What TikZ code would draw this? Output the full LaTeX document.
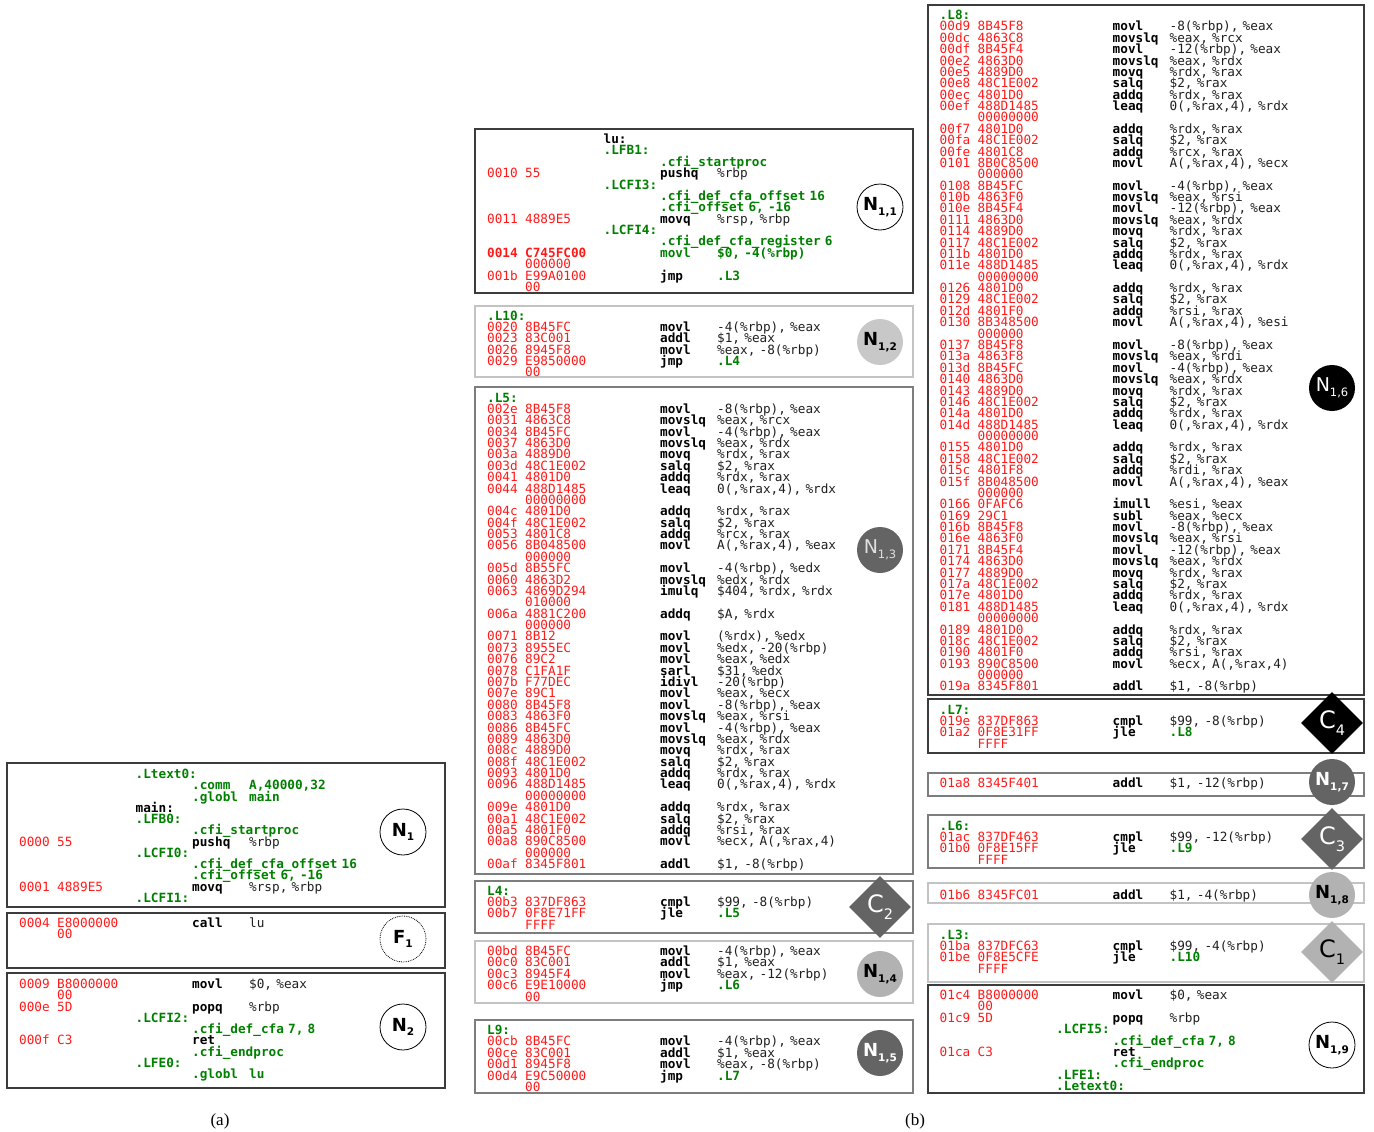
\documentclass[tikz,border=0pt]{standalone}
\usepackage{fontspec}
\usepackage{xcolor}
\usepackage{tikz}
\usetikzlibrary{shapes.geometric}
\newfontfamily\asmfont{DejaVu Sans Mono}
\newfontfamily\mkfont{DejaVu Sans}
\newfontfamily\capfont{Liberation Serif}
\definecolor{addrred}{RGB}{255, 26, 26}
\definecolor{lblgreen}{RGB}{0, 128, 0}
\definecolor{opgray}{RGB}{30, 30, 30}
\definecolor{mklight}{RGB}{200, 200, 200}
\definecolor{mkmid}{RGB}{178, 178, 178}
\definecolor{mkdark}{RGB}{100, 100, 100}
\definecolor{bddark}{RGB}{60, 60, 60}
\definecolor{bdmid}{RGB}{125, 125, 125}
\definecolor{bdlight}{RGB}{195, 195, 195}

\newcommand{\codefont}{\asmfont\fontsize{12.7}{11.38}\selectfont\lineskiplimit=-30pt\lineskip=0pt}
\newcommand{\codefontA}{\asmfont\fontsize{12.7}{11.25}\selectfont\lineskiplimit=-30pt\lineskip=0pt}
\newcommand{\ins}[4]{\makebox[38pt][l]{\color{addrred}#1}\makebox[78.5pt][l]{\color{addrred}#2}\hspace*{56.5pt}\makebox[57pt][l]{\bfseries#3}{\color{opgray}#4}}
\newcommand{\cont}[1]{\hspace*{38pt}{\color{addrred}#1}}
\newcommand{\blab}[1]{{\color{lblgreen}\bfseries#1}}
\newcommand{\lab}[1]{\hspace*{116.5pt}{\color{lblgreen}\bfseries#1}}
\newcommand{\fnl}[1]{\hspace*{116.5pt}{\bfseries#1}}
\newcommand{\dirx}[1]{\hspace*{173pt}{\color{lblgreen}\bfseries#1}}
\newcommand{\dirs}[2]{\hspace*{173pt}\makebox[57pt][l]{\color{lblgreen}\bfseries#1}{\color{lblgreen}\bfseries#2}}
\newcommand{\tgt}[1]{{\color{lblgreen}\bfseries#1}}
\newcommand{\nb}[2]{{\fontsize{18}{18}\selectfont\bfseries #1}\raisebox{-4.5pt}{\fontsize{10.5}{10.5}\selectfont\bfseries #2}}
\newcommand{\nrg}[2]{{\fontsize{19}{19}\selectfont #1}\raisebox{-5pt}{\fontsize{11.5}{11.5}\selectfont #2}}
\newcommand{\cd}[2]{{\fontsize{24}{24}\selectfont #1}\raisebox{-7pt}{\fontsize{14.5}{14.5}\selectfont #2}}

\begin{document}
\begin{tikzpicture}[x=1pt, y=-1pt,
        code/.style={anchor=base west, inner sep=0pt, text width=430pt, align=left, font=\codefont},
        codea/.style={code, font=\codefontA},
        blk/.style={line width=1.3pt},
        mk/.style={circle, minimum size=46pt, inner sep=0pt, font=\mkfont},
        mkw/.style={mk, draw=black, line width=0.8pt, fill=white},
        mkc/.style={diamond, aspect=1, minimum size=62pt, inner sep=0pt, font=\mkfont},
        captxt/.style={font=\capfont\fontsize{17}{17}\selectfont}
    ]
    \useasboundingbox (0,0) rectangle (1374,1132);

    \draw[blk, draw=bddark] (7,763) rectangle (445,907);
    \draw[blk, draw=bddark] (7,913) rectangle (445,968);
    \draw[blk, draw=bddark] (7,973) rectangle (445,1088);

    \draw[blk, draw=bddark] (475,129) rectangle (913,293);
    \draw[blk, draw=bdlight] (475,306) rectangle (913,377);
    \draw[blk, draw=bdmid] (475,387) rectangle (913,874);
    \draw[blk, draw=bdmid] (475,881) rectangle (913,933);
    \draw[blk, draw=bdlight] (475,941) rectangle (913,1003);
    \draw[blk, draw=bdmid] (475,1020) rectangle (913,1093);

    \draw[blk, draw=bddark] (928,5) rectangle (1364,695);
    \draw[blk, draw=bddark] (928,699) rectangle (1364,753);
    \draw[blk, draw=bdmid] (928,773) rectangle (1364,796);
    \draw[blk, draw=bdmid] (928,815) rectangle (1364,868);
    \draw[blk, draw=bdlight] (928,883) rectangle (1364,903);
    \draw[blk, draw=bdlight] (928,924) rectangle (1364,982);
    \draw[blk, draw=bddark] (928,985) rectangle (1364,1093);

    \node[codea] (lsmain) at (19,778.5) {%
        \lab{.Ltext0:}\\
        \dirs{.comm}{A,40000,32}\\
        \dirs{.globl}{main}\\
        \fnl{main:}\\
        \lab{.LFB0:}\\
        \dirx{.cfi\_startproc}\\
        \ins{0000}{55}{pushq}{\%rbp}\\
        \lab{.LCFI0:}\\
        \dirx{.cfi\_def\_cfa\_offset 16}\\
        \dirx{.cfi\_offset 6, -16}\\
        \ins{0001}{4889E5}{movq}{\%rsp, \%rbp}\\
        \lab{.LCFI1:}};
    \node[codea] (lscall) at (19,927.5) {%
        \ins{0004}{E8000000}{call}{lu}\\
        \cont{00}};
    \node[codea] (lsret) at (19,988.5) {%
        \ins{0009}{B8000000}{movl}{\$0, \%eax}\\
        \cont{00}\\
        \ins{000e}{5D}{popq}{\%rbp}\\
        \lab{.LCFI2:}\\
        \dirx{.cfi\_def\_cfa 7, 8}\\
        \ins{000f}{C3}{ret}{}\\
        \dirx{.cfi\_endproc}\\
        \lab{.LFE0:}\\
        \dirs{.globl}{lu}};

    \node[code] (lslu) at (487,143.5) {%
        \fnl{lu:}\\
        \lab{.LFB1:}\\
        \dirx{.cfi\_startproc}\\
        \ins{0010}{55}{pushq}{\%rbp}\\
        \lab{.LCFI3:}\\
        \dirx{.cfi\_def\_cfa\_offset 16}\\
        \dirx{.cfi\_offset 6, -16}\\
        \ins{0011}{4889E5}{movq}{\%rsp, \%rbp}\\
        \lab{.LCFI4:}\\
        \dirx{.cfi\_def\_cfa\_register 6}\\
        \ins{\bfseries 0014}{\bfseries C745FC00}{\color{lblgreen}movl}{\color{lblgreen}\bfseries \$0, -4(\%rbp)}\\
        \cont{000000}\\
        \ins{001b}{E99A0100}{jmp}{\tgt{.L3}}\\
        \cont{00}};
    \node[code] (lsten) at (487,320) {%
        \blab{.L10:}\\
        \ins{0020}{8B45FC}{movl}{-4(\%rbp), \%eax}\\
        \ins{0023}{83C001}{addl}{\$1, \%eax}\\
        \ins{0026}{8945F8}{movl}{\%eax, -8(\%rbp)}\\
        \ins{0029}{E9850000}{jmp}{\tgt{.L4}}\\
        \cont{00}};
    \node[code] (lsfive) at (487,402) {%
        \blab{.L5:}\\
        \ins{002e}{8B45F8}{movl}{-8(\%rbp), \%eax}\\
        \ins{0031}{4863C8}{movslq}{\%eax, \%rcx}\\
        \ins{0034}{8B45FC}{movl}{-4(\%rbp), \%eax}\\
        \ins{0037}{4863D0}{movslq}{\%eax, \%rdx}\\
        \ins{003a}{4889D0}{movq}{\%rdx, \%rax}\\
        \ins{003d}{48C1E002}{salq}{\$2, \%rax}\\
        \ins{0041}{4801D0}{addq}{\%rdx, \%rax}\\
        \ins{0044}{488D1485}{leaq}{0(,\%rax,4), \%rdx}\\
        \cont{00000000}\\
        \ins{004c}{4801D0}{addq}{\%rdx, \%rax}\\
        \ins{004f}{48C1E002}{salq}{\$2, \%rax}\\
        \ins{0053}{4801C8}{addq}{\%rcx, \%rax}\\
        \ins{0056}{8B048500}{movl}{A(,\%rax,4), \%eax}\\
        \cont{000000}\\
        \ins{005d}{8B55FC}{movl}{-4(\%rbp), \%edx}\\
        \ins{0060}{4863D2}{movslq}{\%edx, \%rdx}\\
        \ins{0063}{4869D294}{imulq}{\$404, \%rdx, \%rdx}\\
        \cont{010000}\\
        \ins{006a}{4881C200}{addq}{\$A, \%rdx}\\
        \cont{000000}\\
        \ins{0071}{8B12}{movl}{(\%rdx), \%edx}\\
        \ins{0073}{8955EC}{movl}{\%edx, -20(\%rbp)}\\
        \ins{0076}{89C2}{movl}{\%eax, \%edx}\\
        \ins{0078}{C1FA1F}{sarl}{\$31, \%edx}\\
        \ins{007b}{F77DEC}{idivl}{-20(\%rbp)}\\
        \ins{007e}{89C1}{movl}{\%eax, \%ecx}\\
        \ins{0080}{8B45F8}{movl}{-8(\%rbp), \%eax}\\
        \ins{0083}{4863F0}{movslq}{\%eax, \%rsi}\\
        \ins{0086}{8B45FC}{movl}{-4(\%rbp), \%eax}\\
        \ins{0089}{4863D0}{movslq}{\%eax, \%rdx}\\
        \ins{008c}{4889D0}{movq}{\%rdx, \%rax}\\
        \ins{008f}{48C1E002}{salq}{\$2, \%rax}\\
        \ins{0093}{4801D0}{addq}{\%rdx, \%rax}\\
        \ins{0096}{488D1485}{leaq}{0(,\%rax,4), \%rdx}\\
        \cont{00000000}\\
        \ins{009e}{4801D0}{addq}{\%rdx, \%rax}\\
        \ins{00a1}{48C1E002}{salq}{\$2, \%rax}\\
        \ins{00a5}{4801F0}{addq}{\%rsi, \%rax}\\
        \ins{00a8}{890C8500}{movl}{\%ecx, A(,\%rax,4)}\\
        \cont{000000}\\
        \ins{00af}{8345F801}{addl}{\$1, -8(\%rbp)}};
    \node[code] (lsfour) at (487,895) {%
        \blab{L4:}\\
        \ins{00b3}{837DF863}{cmpl}{\$99, -8(\%rbp)}\\
        \ins{00b7}{0F8E71FF}{jle}{\tgt{.L5}}\\
        \cont{FFFF}};
    \node[code] (lsinc) at (487,955.5) {%
        \ins{00bd}{8B45FC}{movl}{-4(\%rbp), \%eax}\\
        \ins{00c0}{83C001}{addl}{\$1, \%eax}\\
        \ins{00c3}{8945F4}{movl}{\%eax, -12(\%rbp)}\\
        \ins{00c6}{E9E10000}{jmp}{\tgt{.L6}}\\
        \cont{00}};
    \node[code] (lsnine) at (487,1034.5) {%
        \blab{L9:}\\
        \ins{00cb}{8B45FC}{movl}{-4(\%rbp), \%eax}\\
        \ins{00ce}{83C001}{addl}{\$1, \%eax}\\
        \ins{00d1}{8945F8}{movl}{\%eax, -8(\%rbp)}\\
        \ins{00d4}{E9C50000}{jmp}{\tgt{.L7}}\\
        \cont{00}};

    \node[code] (lseight) at (939.5,19.5) {%
        \blab{.L8:}\\
        \ins{00d9}{8B45F8}{movl}{-8(\%rbp), \%eax}\\
        \ins{00dc}{4863C8}{movslq}{\%eax, \%rcx}\\
        \ins{00df}{8B45F4}{movl}{-12(\%rbp), \%eax}\\
        \ins{00e2}{4863D0}{movslq}{\%eax, \%rdx}\\
        \ins{00e5}{4889D0}{movq}{\%rdx, \%rax}\\
        \ins{00e8}{48C1E002}{salq}{\$2, \%rax}\\
        \ins{00ec}{4801D0}{addq}{\%rdx, \%rax}\\
        \ins{00ef}{488D1485}{leaq}{0(,\%rax,4), \%rdx}\\
        \cont{00000000}\\
        \ins{00f7}{4801D0}{addq}{\%rdx, \%rax}\\
        \ins{00fa}{48C1E002}{salq}{\$2, \%rax}\\
        \ins{00fe}{4801C8}{addq}{\%rcx, \%rax}\\
        \ins{0101}{8B0C8500}{movl}{A(,\%rax,4), \%ecx}\\
        \cont{000000}\\
        \ins{0108}{8B45FC}{movl}{-4(\%rbp), \%eax}\\
        \ins{010b}{4863F0}{movslq}{\%eax, \%rsi}\\
        \ins{010e}{8B45F4}{movl}{-12(\%rbp), \%eax}\\
        \ins{0111}{4863D0}{movslq}{\%eax, \%rdx}\\
        \ins{0114}{4889D0}{movq}{\%rdx, \%rax}\\
        \ins{0117}{48C1E002}{salq}{\$2, \%rax}\\
        \ins{011b}{4801D0}{addq}{\%rdx, \%rax}\\
        \ins{011e}{488D1485}{leaq}{0(,\%rax,4), \%rdx}\\
        \cont{00000000}\\
        \ins{0126}{4801D0}{addq}{\%rdx, \%rax}\\
        \ins{0129}{48C1E002}{salq}{\$2, \%rax}\\
        \ins{012d}{4801F0}{addq}{\%rsi, \%rax}\\
        \ins{0130}{8B348500}{movl}{A(,\%rax,4), \%esi}\\
        \cont{000000}\\
        \ins{0137}{8B45F8}{movl}{-8(\%rbp), \%eax}\\
        \ins{013a}{4863F8}{movslq}{\%eax, \%rdi}\\
        \ins{013d}{8B45FC}{movl}{-4(\%rbp), \%eax}\\
        \ins{0140}{4863D0}{movslq}{\%eax, \%rdx}\\
        \ins{0143}{4889D0}{movq}{\%rdx, \%rax}\\
        \ins{0146}{48C1E002}{salq}{\$2, \%rax}\\
        \ins{014a}{4801D0}{addq}{\%rdx, \%rax}\\
        \ins{014d}{488D1485}{leaq}{0(,\%rax,4), \%rdx}\\
        \cont{00000000}\\
        \ins{0155}{4801D0}{addq}{\%rdx, \%rax}\\
        \ins{0158}{48C1E002}{salq}{\$2, \%rax}\\
        \ins{015c}{4801F8}{addq}{\%rdi, \%rax}\\
        \ins{015f}{8B048500}{movl}{A(,\%rax,4), \%eax}\\
        \cont{000000}\\
        \ins{0166}{0FAFC6}{imull}{\%esi, \%eax}\\
        \ins{0169}{29C1}{subl}{\%eax, \%ecx}\\
        \ins{016b}{8B45F8}{movl}{-8(\%rbp), \%eax}\\
        \ins{016e}{4863F0}{movslq}{\%eax, \%rsi}\\
        \ins{0171}{8B45F4}{movl}{-12(\%rbp), \%eax}\\
        \ins{0174}{4863D0}{movslq}{\%eax, \%rdx}\\
        \ins{0177}{4889D0}{movq}{\%rdx, \%rax}\\
        \ins{017a}{48C1E002}{salq}{\$2, \%rax}\\
        \ins{017e}{4801D0}{addq}{\%rdx, \%rax}\\
        \ins{0181}{488D1485}{leaq}{0(,\%rax,4), \%rdx}\\
        \cont{00000000}\\
        \ins{0189}{4801D0}{addq}{\%rdx, \%rax}\\
        \ins{018c}{48C1E002}{salq}{\$2, \%rax}\\
        \ins{0190}{4801F0}{addq}{\%rsi, \%rax}\\
        \ins{0193}{890C8500}{movl}{\%ecx, A(,\%rax,4)}\\
        \cont{000000}\\
        \ins{019a}{8345F801}{addl}{\$1, -8(\%rbp)}};
    \node[code] (lsseven) at (939.5,714) {%
        \blab{.L7:}\\
        \ins{019e}{837DF863}{cmpl}{\$99, -8(\%rbp)}\\
        \ins{01a2}{0F8E31FF}{jle}{\tgt{.L8}}\\
        \cont{FFFF}};
    \node[code] (lsincj) at (939.5,787) {%
        \ins{01a8}{8345F401}{addl}{\$1, -12(\%rbp)}};
    \node[code] (lssix) at (939.5,830) {%
        \blab{.L6:}\\
        \ins{01ac}{837DF463}{cmpl}{\$99, -12(\%rbp)}\\
        \ins{01b0}{0F8E15FF}{jle}{\tgt{.L9}}\\
        \cont{FFFF}};
    \node[code] (lsinci) at (939.5,899) {%
        \ins{01b6}{8345FC01}{addl}{\$1, -4(\%rbp)}};
    \node[code] (lsthree) at (939.5,939) {%
        \blab{.L3:}\\
        \ins{01ba}{837DFC63}{cmpl}{\$99, -4(\%rbp)}\\
        \ins{01be}{0F8E5CFE}{jle}{\tgt{.L10}}\\
        \cont{FFFF}};
    \node[code] (lsend) at (939.5,999.5) {%
        \ins{01c4}{B8000000}{movl}{\$0, \%eax}\\
        \cont{00}\\
        \ins{01c9}{5D}{popq}{\%rbp}\\
        \lab{.LCFI5:}\\
        \dirx{.cfi\_def\_cfa 7, 8}\\
        \ins{01ca}{C3}{ret}{}\\
        \dirx{.cfi\_endproc}\\
        \lab{.LFE1:}\\
        \lab{.Letext0:}};

    \node[mkw] (n1) at (403,832) {\nb{N}{1}};
    \node[mkw, densely dotted] (f1) at (403,939) {\nb{F}{1}};
    \node[mkw] (n2) at (403,1027) {\nb{N}{2}};

    \node[mkw] (n11) at (880,207) {\nb{N}{1,1}};
    \node[mk, fill=mklight] (n12) at (880,342) {\nb{N}{1,2}};
    \node[mk, fill=mkdark, text=white!88!black] (n13) at (880,550) {\nrg{N}{1,3}};
    \node[mkc, fill=mkdark, text=white] (c2) at (880,907) {\cd{C}{2}};
    \node[mk, fill=mkmid] (n14) at (880,974) {\nb{N}{1,4}};
    \node[mk, fill=mkdark, text=white] (n15) at (880,1053) {\nb{N}{1,5}};

    \node[mk, fill=black, text=white] (n16) at (1332,388) {\nrg{N}{1,6}};
    \node[mkc, fill=black, text=white] (c4) at (1332,723) {\cd{C}{4}};
    \node[mk, fill=mkdark, text=white] (n17) at (1332,782) {\nb{N}{1,7}};
    \node[mkc, fill=mkdark, text=white] (c3) at (1332,839) {\cd{C}{3}};
    \node[mk, fill=mkmid] (n18) at (1332,895) {\nb{N}{1,8}};
    \node[mkc, fill=mkmid] (c1) at (1332,952) {\cd{C}{1}};
    \node[mkw] (n19) at (1332,1045) {\nb{N}{1,9}};

    \node[captxt] (capa) at (220,1121) {(a)};
    \node[captxt] (capb) at (915,1121) {(b)};
\end{tikzpicture}
\end{document}
